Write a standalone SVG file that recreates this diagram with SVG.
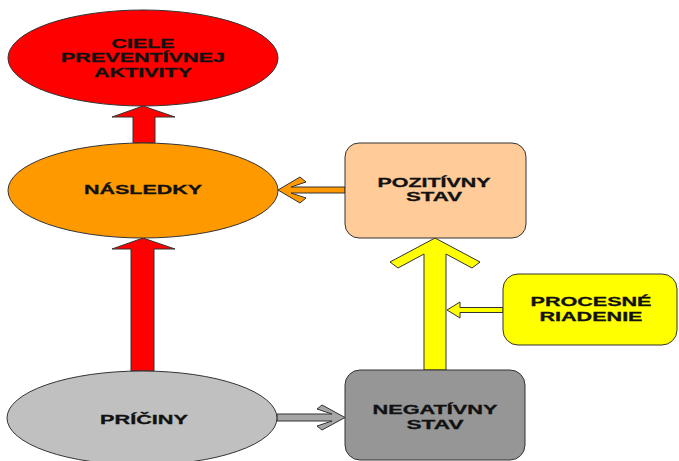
<svg xmlns="http://www.w3.org/2000/svg" width="679" height="461" viewBox="0 0 679 461">
<style>
.sh{stroke:#333;stroke-width:1;stroke-linejoin:miter}
.t{font-family:"Liberation Sans",Arial,sans-serif;font-weight:bold;font-size:12.5px;fill:#111;stroke:#111;stroke-width:0.3;text-anchor:middle}
</style>
<rect width="679" height="461" fill="#fff"/>
<g id="connectors">
<polygon class="sh" fill="#FF0000" points="143,106 175,117 155,117 155,143 133,143 133,117 112,117"/>
<polygon class="sh" fill="#FF0000" points="143,238 175,249 154,249 154,371 131,371 131,249 112,249"/>
<polygon class="sh" fill="#FF9900" points="278,190 300,177 306,182 291,187 345,187 345,193 291,193 306,198 300,203"/>
<polygon class="sh" fill="#FFFF00" points="435,238 480,262 472,268 446,254 446,370 424,370 424,254 398,268 390,262"/>
<polygon class="sh" fill="#FFFF00" points="447,310 460,302 460,307.5 503,307.5 503,312.5 460,312.5 460,318"/>
<polygon class="sh" fill="#A6A6A6" points="345,417.5 322,405 317,409 332,414 277,414 277,421 332,421 317,426 322,430"/>
</g>
<g id="ciele">
<ellipse class="sh" fill="#FF0000" cx="143" cy="58" rx="135" ry="48"/>
<text class="t" x="143" y="47.5" textLength="63" lengthAdjust="spacingAndGlyphs">CIELE</text>
<text class="t" x="143" y="62" textLength="164" lengthAdjust="spacingAndGlyphs">PREVENTÍVNEJ</text>
<text class="t" x="143" y="76.5" textLength="98" lengthAdjust="spacingAndGlyphs">AKTIVITY</text>
</g>
<g id="nasledky">
<ellipse class="sh" fill="#FF9900" cx="143" cy="190.5" rx="135" ry="47.5"/>
<text class="t" x="143" y="194" textLength="118" lengthAdjust="spacingAndGlyphs">NÁSLEDKY</text>
</g>
<g id="pozitivny">
<rect class="sh" fill="#FFCC99" x="345" y="143" width="181" height="95" rx="14"/>
<text class="t" x="434" y="187" textLength="113" lengthAdjust="spacingAndGlyphs">POZITÍVNY</text>
<text class="t" x="434" y="200.5" textLength="56" lengthAdjust="spacingAndGlyphs">STAV</text>
</g>
<g id="procesne">
<rect class="sh" fill="#FFFF00" x="503" y="274" width="174" height="71" rx="15"/>
<text class="t" x="591" y="306" textLength="121" lengthAdjust="spacingAndGlyphs">PROCESNÉ</text>
<text class="t" x="591" y="321" textLength="103" lengthAdjust="spacingAndGlyphs">RIADENIE</text>
</g>
<g id="priciny">
<ellipse class="sh" fill="#C0C0C0" cx="142" cy="418" rx="135" ry="47"/>
<text class="t" x="144" y="423.5" textLength="88" lengthAdjust="spacingAndGlyphs">PRÍČINY</text>
</g>
<g id="negativny">
<rect class="sh" fill="#969696" x="345" y="370" width="180" height="90" rx="15"/>
<text class="t" x="435" y="414" textLength="125" lengthAdjust="spacingAndGlyphs">NEGATÍVNY</text>
<text class="t" x="435" y="428.5" textLength="57" lengthAdjust="spacingAndGlyphs">STAV</text>
</g>
</svg>
